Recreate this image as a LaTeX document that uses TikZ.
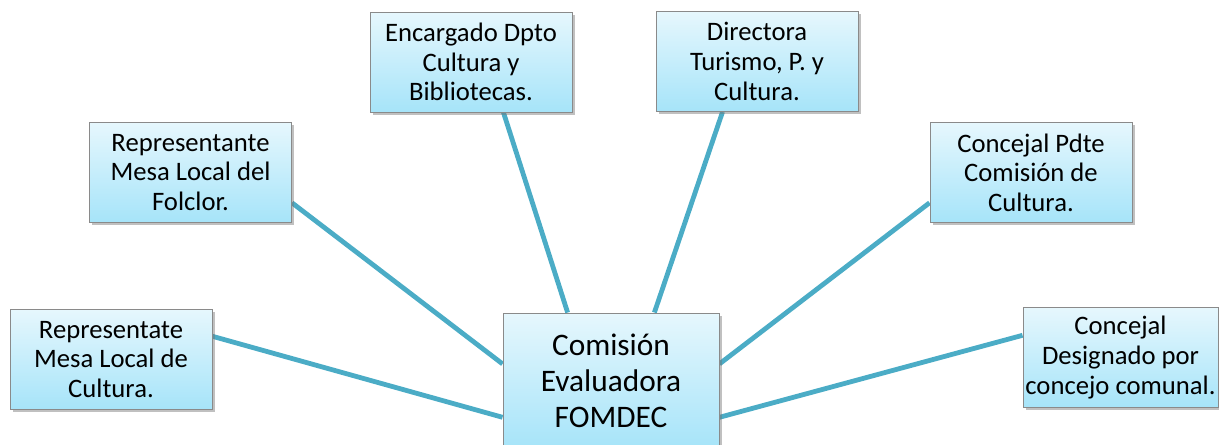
\documentclass[tikz,border=0pt]{standalone}
\usepackage{fontspec}
\setmainfont{Carlito}
\usetikzlibrary{shadows,calc,backgrounds}
\definecolor{spoke}{HTML}{4BACC6}
\definecolor{boxtop}{HTML}{E6F7FD}
\definecolor{boxbot}{HTML}{A6E4F9}
\definecolor{boxline}{HTML}{8A8A8A}
\tikzset{
  member/.style={draw=boxline, line width=0.7pt, top color=boxtop, bottom color=boxbot,
    minimum width=202*0.75pt, minimum height=100*0.75pt, inner sep=1pt, align=center,
    font=\fontsize{20}{22.2}\selectfont,
    drop shadow={shadow xshift=2pt, shadow yshift=-2.2pt, opacity=0.45, fill=black!55}},
  central/.style={member, minimum width=216*0.75pt, minimum height=136*0.75pt,
    font=\fontsize{23.5}{27}\selectfont},
  spokeline/.style={draw=spoke, line width=3.6pt}
}
\begin{document}
\begin{tikzpicture}[x=0.75pt,y=-0.75pt]
\useasboundingbox (0,0) rectangle (1219,444);
\begin{scope}
\clip (0,0) rectangle (1219,444);
\node[central] (c) at (611,381) {Comisión\\Evaluadora\\FOMDEC};
\node[member] (lb) at (111,359.5) {Representate\\Mesa Local de\\Cultura.};
\node[member] (lu) at (190.5,172.5) {Representante\\Mesa Local del\\Folclor.};
\node[member] (tl) at (471,62) {Encargado Dpto\\Cultura y\\Bibliotecas.};
\node[member] (tr) at (757,61.5) {Directora\\Turismo, P. y\\Cultura.};
\node[member] (ru) at (1031,172.5) {Concejal Pdte\\Comisión de\\Cultura.};
\node[member, minimum width=195*0.75pt] (rb) at (1120.5,357.5) {Concejal\\Designado por\\concejo comunal.};
\begin{scope}[on background layer]
\draw[spokeline] ($(lb.north east)!0.27!(lb.south east)$) -- ($(c.north west)!0.765!(c.south west)$);
\draw[spokeline] ($(lu.north east)!0.80!(lu.south east)$) -- ($(c.north west)!0.375!(c.south west)$);
\draw[spokeline] ($(tl.south west)!0.66!(tl.south east)$) -- ($(c.north west)!0.30!(c.north east)$);
\draw[spokeline] ($(tr.south west)!0.33!(tr.south east)$) -- ($(c.north west)!0.70!(c.north east)$);
\draw[spokeline] ($(ru.north west)!0.80!(ru.south west)$) -- ($(c.north east)!0.375!(c.south east)$);
\draw[spokeline] ($(rb.north west)!0.28!(rb.south west)$) -- ($(c.north east)!0.765!(c.south east)$);
\end{scope}
\end{scope}
\end{tikzpicture}
\end{document}
